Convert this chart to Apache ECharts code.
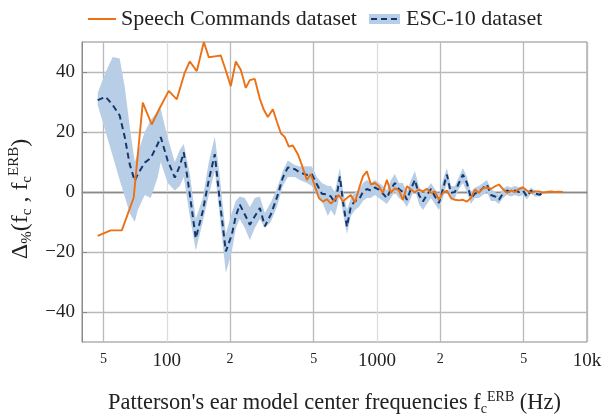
<!DOCTYPE html>
<html>
<head>
<meta charset="utf-8">
<script src="https://cdn.jsdelivr.net/npm/echarts@6/dist/echarts.min.js"></script>
<style>
  html, body { margin: 0; padding: 0; background: #fff; }
  #chart { width: 612px; height: 414px; }
</style>
</head>
<body>
<div id="chart"></div>
<script>
// x tick values and their labels (log axis)
const xTickValues = [50, 100, 200, 500, 1000, 2000, 5000, 10000]
const xTickLabels = ['5', '100', '2', '5', '1000', '2', '5', '10k']
const yTickValues = [-40, -20, 0, 20, 40]

// Speech Commands dataset
const speechFreq = [
  46.9, 54.1, 61.1, 69.6, 76.9, 84.8, 92.6, 102.2, 111.6, 121.8,
  128.7, 139, 150.1, 158.5, 169.3, 180.8, 191, 201.7, 213.1, 225.2,
  237.8, 248.5, 262.4, 277.4, 289.7, 302.7, 319.8, 334.1, 349.2, 364.8,
  381.1, 398.1, 420.6, 439.5, 464.2, 484.9, 506.8, 529.5, 553.2, 578,
  604, 631, 659, 689, 720, 752, 786, 821, 858, 896,
  936, 978, 1022, 1068, 1116, 1166, 1218, 1273, 1330, 1390,
  1452, 1517, 1585, 1656, 1730, 1808, 1889, 1974, 2062, 2154,
  2251, 2352, 2457, 2567, 2683, 2803, 2929, 3060, 3197, 3341,
  3490, 3647, 3811, 3981, 4160, 4347, 4541, 4745, 4958, 5180,
  5412, 5655, 5908, 6173, 6450, 6739, 7041, 7356, 7686
]
const speechDelta = [
  -14.6, -12.8, -12.8, -1.9, 29.8, 22.5, 28, 33.7, 30.9, 39.8,
  43.5, 40.3, 50, 44.9, 45.2, 45.5, 40.5, 35.3, 43.5, 40.7,
  34.7, 37.3, 37.7, 31, 27.4, 25, 27.6, 23.5, 19.6, 18.3,
  15.1, 15.5, 12.6, 9, 4, 6, 1.9, -2, -3.2, -2.4,
  -3.9, -2.5, -1, -3.2, -2, -1, -3.5, 1, 5.2, 6.9,
  2.5, 3, 1.9, -0.3, 4.1, -0.3, 1.3, 0.5, -2.6, 1.9,
  0.8, 0, 0.8, 0.2, 1.1, -0.3, 0.2, -2.6, -0.3, 0.5,
  -2, -2.6, -2.8, -2.6, -3.2, -2, 0.8, -0.3, 1.3, 1.5,
  1, 1.9, 2.5, 1, -0.3, 0.5, 0, 1, 1.5, 0.5,
  -0.3, 0.2, 0.2, -0.2, 0, 0.2, 0, 0.1, 0
]

// ESC-10 dataset: mean and band
const escFreq = [
  46.9, 51.2, 55.3, 59.7, 63.1, 66.6, 70.4, 72.8, 78.6, 83.9,
  90.6, 93.6, 101.1, 109.2, 115.3, 120.5, 128.7, 137.4, 148.4, 158.5,
  169.3, 178.8, 191, 203.9, 213.1, 222.7, 235.2, 248.5, 262.4, 277.4,
  292.9, 312.8, 334.1, 356.8, 376.9, 406.9, 429.9, 464.2, 490.3, 518,
  547.1, 584.4, 604, 631, 652, 666.5, 689, 720, 752, 786,
  821, 858, 896, 936, 978, 1022, 1068, 1116, 1166, 1218,
  1273, 1330, 1390, 1452, 1517, 1585, 1656, 1730, 1808, 1889,
  1974, 2062, 2154, 2251, 2352, 2457, 2567, 2683, 2803, 2929,
  3060, 3197, 3341, 3490, 3647, 3811, 3981, 4160, 4347, 4541,
  4745, 4958, 5180, 5412, 5655, 5974, 6173
]
const escMean = [
  30.6, 31.7, 29, 25.5, 18.3, 9.3, 3.7, 5.9, 9.8, 11.3,
  16, 18.3, 10.4, 4.8, 8.7, 13.2, -0.8, -15.4, -6.4, 4,
  12.6, -3, -19.8, -14.3, -8, -4.2, -7.5, -10.9, -8.1, -5.3,
  -11.4, -7.5, -1.9, 4.8, 8.2, 7.6, 6.5, 5.7, 5.9, 2.6,
  -0.6, -0.8, -1.5, -3.5, 1, 5.2, -3, -11.6, -4.8, -3,
  -2.6, 0, 1, 0.5, 1.5, 0.8, -0.5, -2, 1, 3,
  1, 0, -2.6, 1, 4.1, -1, -3.2, -1, 1, -1.5,
  -3.7, 1, 5.8, -0.3, 0, 3, 5.8, 3, -2, -0.5,
  0, 1.3, 2.5, -1, -1.5, -2.6, -0.5, 0.5, 0, 0.5,
  0, 0.5, -1.5, 0.5, -0.5, -0.9, 0
]
const escLow = [
  29, 20, 12, 4, -1.5, -7, -10, -6, -1, -2,
  5, 10, 3, 0.5, 2, 5, -8, -19.5, -10, -1,
  7, -8, -27, -20, -12, -9, -12, -16, -12, -9,
  -12, -10, -5, 2, 5, 5, 4, 3, 2, -1,
  -3, -8, -6, -8, -4, 0, -7, -14, -8, -6,
  -5, -3, -2, -2, -1, -2, -3, -4, -2, 0,
  -2, -3, -5, -2, 1, -4, -6, -4, -2, -4,
  -6, -2, 3, -3, -2, 1, 3, 0, -4, -2,
  -2, -1, 0, -3, -3, -4, -2, -1, -1.5, -1,
  -1.5, -1, -2.5, -0.5, -1.5, -1.5, -0.5
]
const escHigh = [
  33, 40, 45, 44.5, 35, 22, 10, 13, 20, 24,
  27, 27.7, 18, 10, 14, 16, 6, -9, -2, 10,
  18.5, 5, -14, -7, -3, -1.5, -2, -5, -2, -1.5,
  -7, -3.5, 1, 7, 10.5, 9, 8.5, 8.6, 8.5, 5,
  3, 2, 2, 0, 5, 8, 1, -6, -2, 0,
  0.5, 3, 4, 3, 4, 3, 2, 0.5, 4, 6,
  3, 3, 0, 4, 7, 2, -1, 1, 3, 1,
  -1, 4, 8, 2, 2, 5, 8, 5, 0, 1.5,
  2, 3, 4, 1, 0, -1, 1, 2, 1.5, 2,
  1.5, 2, 0, 1.5, 0.5, 0, 0.5
]

const serif = 'Liberation Serif'
const orange = '#ec7014'
const navy = '#14386e'
const bandColor = '#b7cee6'

const zip = (xs, ys) => xs.map((x, i) => [x, ys[i]])

// band polygon: upper edge left->right, lower edge right->left
const renderBand = (params, api) => {
  const upper = escFreq.map((f, i) => api.coord([f, escHigh[i]]))
  const lower = escFreq.map((f, i) => api.coord([f, escLow[i]])).reverse()
  return {
    type: 'polygon',
    shape: { points: upper.concat(lower) },
    style: { fill: bandColor },
    silent: true
  }
}

const chart = echarts.init(document.getElementById('chart'), null, { renderer: 'canvas' })

const legendText = { fontFamily: serif, fontSize: 22, color: '#222' }

const option = {
  animation: false,
  backgroundColor: '#fff',
  textStyle: { fontFamily: serif, color: '#222' },
  grid: {
    left: 82, right: 25, top: 42, bottom: 72,
    outerBoundsMode: 'none',
    containLabel: false,
    show: true, borderColor: '#8a8a8a', borderWidth: 1
  },
  legend: [
    {
      data: ['Speech Commands dataset'],
      left: 87, top: 8, padding: 0,
      itemWidth: 28, itemHeight: 14,
      itemStyle: { opacity: 0 },
      textStyle: legendText
    },
    {
      data: ['ESC-10 dataset'],
      left: 370, top: 8, padding: 0,
      itemWidth: 30, itemHeight: 14,
      itemStyle: { opacity: 0 },
      textStyle: legendText
    }
  ],
  graphic: [
    // shaded patch behind the ESC-10 legend line
    { type: 'rect', left: 369, top: 14, shape: { width: 31, height: 10 }, style: { fill: bandColor }, z: -1 }
  ],
  xAxis: {
    type: 'log',
    logBase: 10,
    min: 39.5,
    max: 10000,
    name: "{t|Patterson's ear model center frequencies f}{s|c}{u|ERB}{t| (Hz)}",
    nameLocation: 'middle',
    nameGap: 48,
    nameTextStyle: {
      rich: {
        t: { fontFamily: serif, fontSize: 22.4, color: '#222', lineHeight: 26 },
        s: { fontFamily: serif, fontSize: 14, color: '#222', lineHeight: 15, verticalAlign: 'bottom' },
        u: { fontFamily: serif, fontSize: 14, color: '#222', lineHeight: 15, verticalAlign: 'top' }
      }
    },
    axisLine: { show: true, lineStyle: { color: '#8a8a8a' } },
    axisTick: { show: false, customValues: xTickValues },
    axisLabel: {
      customValues: xTickValues,
      margin: 10,
      formatter: (v) => {
        const i = xTickValues.indexOf(Math.round(v))
        const lab = i >= 0 ? xTickLabels[i] : ''
        return (lab.length === 1) ? '{m|' + lab + '}' : '{b|' + lab + '}'
      },
      rich: {
        b: { fontFamily: serif, fontSize: 19, color: '#222' },
        m: { fontFamily: serif, fontSize: 14, color: '#222', padding: [0, 0, 6, 0] }
      }
    },
    splitLine: {
      show: true,
      lineStyle: { color: ['#b9b9b9', '#dcdcdc', '#b9b9b9', '#b9b9b9', '#dcdcdc', '#b9b9b9', '#b9b9b9', '#b9b9b9'], width: 1.3 }
    }
  },
  yAxis: {
    type: 'value',
    min: -50,
    max: 50,
    name: '{t|Δ}{s|%}{t|(f}{s|c}{t| , f}{s|c}{u|ERB}{t|)}',
    nameLocation: 'middle',
    nameRotate: 90,
    nameGap: 38,
    nameTextStyle: {
      padding: [0, 14, 0, 0],
      rich: {
        t: { fontFamily: serif, fontSize: 24, color: '#222', lineHeight: 28 },
        s: { fontFamily: serif, fontSize: 15, color: '#222', lineHeight: 16, verticalAlign: 'bottom' },
        u: { fontFamily: serif, fontSize: 15, color: '#222', lineHeight: 16, verticalAlign: 'top' }
      }
    },
    axisLine: { show: true, lineStyle: { color: '#8a8a8a' } },
    axisTick: { show: true, inside: true, length: 5, customValues: yTickValues, lineStyle: { color: '#8a8a8a' } },
    axisLabel: {
      customValues: yTickValues,
      margin: 7,
      fontFamily: serif,
      fontSize: 19,
      color: '#222',
      formatter: (v) => (v < 0 ? '\u2212' + Math.abs(v) : String(v))
    },
    splitLine: {
      show: true,
      lineStyle: { color: ['#b9b9b9', '#b9b9b9', '#333333', '#b9b9b9', '#b9b9b9'], width: 1.3 }
    }
  },
  series: [
    {
      name: 'esc-band',
      type: 'custom',
      renderItem: renderBand,
      data: [[escFreq[0], escMean[0]]],
      silent: true,
      z: 2
    },
    {
      name: 'ESC-10 dataset',
      type: 'line',
      data: zip(escFreq, escMean),
      symbol: 'none',
      lineStyle: { color: navy, width: 2, type: [6, 4] },
      itemStyle: { color: navy },
      z: 3
    },
    {
      name: 'Speech Commands dataset',
      type: 'line',
      data: zip(speechFreq, speechDelta),
      symbol: 'none',
      lineStyle: { color: orange, width: 1.9 },
      itemStyle: { color: orange },
      z: 4
    }
  ]
}

chart.setOption(option)
</script>
</body>
</html>
